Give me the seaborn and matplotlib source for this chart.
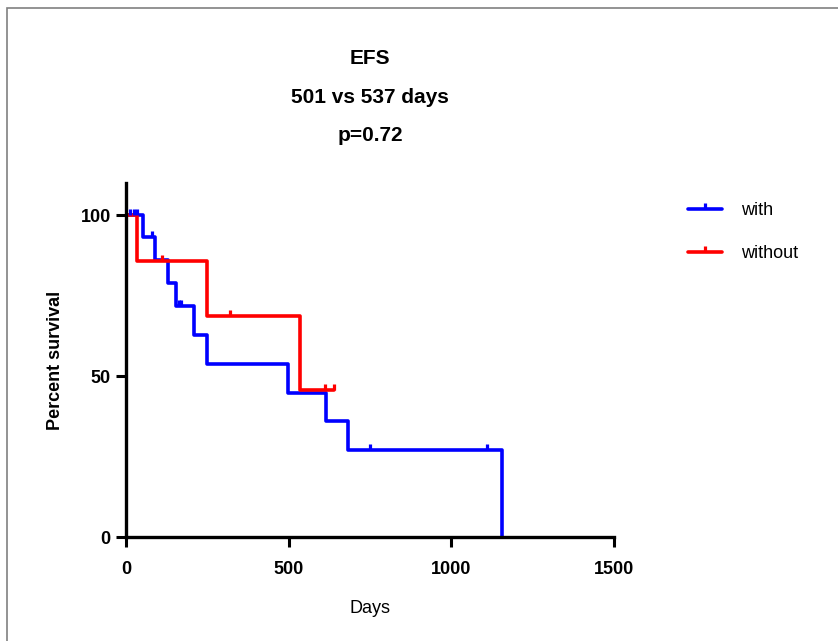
import numpy as np
import pandas as pd
import matplotlib
matplotlib.use("Agg")
import matplotlib.pyplot as plt
import seaborn as sns
from matplotlib.patches import Rectangle

# step curves (days, percent survival)
with_days = [0, 53, 89, 130, 154, 209, 250, 498, 615, 682, 1155]
with_surv = [100, 93.3, 86.2, 79.0, 71.8, 62.8, 53.8, 44.9, 35.9, 26.9, 0]
without_days = [0, 33, 248, 535, 640]
without_surv = [100, 85.7, 68.6, 45.7, 45.7]

# censored observations
with_cens_days = [12, 25, 35, 79, 163, 170, 750, 1109]
with_cens_surv = [100, 100, 100, 93.3, 71.8, 71.8, 26.9, 26.9]
without_cens_days = [110, 320, 612, 640]
without_cens_surv = [85.7, 68.6, 45.7, 45.7]

groups = ["with", "without"]
colors = {"with": "#0000FF", "without": "#FF0000"}

curves = pd.concat([
    pd.DataFrame({"Days": with_days, "Percent survival": with_surv, "group": "with"}),
    pd.DataFrame({"Days": without_days, "Percent survival": without_surv, "group": "without"}),
], ignore_index=True)

sns.set_style("ticks")
plt.rcParams["font.family"] = ["Liberation Sans", "DejaVu Sans"]
plt.rcParams["text.color"] = "black"
plt.rcParams["axes.labelcolor"] = "black"
plt.rcParams["xtick.color"] = "black"
plt.rcParams["ytick.color"] = "black"

fig = plt.figure(figsize=(8.38, 6.41), dpi=100)
ax = fig.add_axes([126 / 838, 1 - 537 / 641, (614 - 126) / 838, (537 - 183) / 641])

lw = 2.6
sns.lineplot(data=curves, x="Days", y="Percent survival", hue="group",
             palette=colors, estimator=None, sort=False, drawstyle="steps-post",
             linewidth=lw, ax=ax, legend=False)

ax.plot(with_cens_days, with_cens_surv, linestyle="none", marker=2,
        markersize=4.5, markeredgewidth=2.3, color=colors["with"])
ax.plot(without_cens_days, without_cens_surv, linestyle="none", marker=2,
        markersize=4.5, markeredgewidth=2.3, color=colors["without"])

ax.set_xlim(0, 1500)
ax.set_ylim(0, 110)
ax.set_xticks([0, 500, 1000, 1500])
ax.set_yticks([0, 50, 100])
for side in ["top", "right"]:
    ax.spines[side].set_visible(False)
for side in ["left", "bottom"]:
    ax.spines[side].set_linewidth(2.4)
    ax.spines[side].set_color("black")
ax.tick_params(axis="both", length=7, width=2.2, color="black", labelsize=13)
ax.tick_params(axis="x", pad=10)
ax.tick_params(axis="y", pad=4)
for lab in ax.get_xticklabels() + ax.get_yticklabels():
    lab.set_fontweight("bold")

ax.set_xlabel("Days", fontsize=13, labelpad=16)
ax.set_ylabel("Percent survival", fontsize=13, fontweight="bold", labelpad=12)
ax.set_title("EFS\n501 vs 537 days\np=0.72", fontsize=15, fontweight="bold",
             linespacing=2.3, pad=30)

handles = [plt.Line2D([], [], color=colors[g], linewidth=lw, marker=2,
                      markersize=4.5, markeredgewidth=2.3) for g in groups]
fig.legend(handles, groups, loc="upper left", bbox_to_anchor=(688 / 838, 1 - 202 / 641),
           frameon=False, fontsize=13, handlelength=1.9, handletextpad=1.05,
           labelspacing=1.45, borderpad=0, borderaxespad=0, numpoints=1)

# grey frame of the original export
fig.patches.append(Rectangle((7 / 838, -0.1), 1.2, 1.1 - 8 / 641, transform=fig.transFigure,
                             fill=False, edgecolor="#808080", linewidth=1.2))

fig.savefig("out.png", dpi=100)
